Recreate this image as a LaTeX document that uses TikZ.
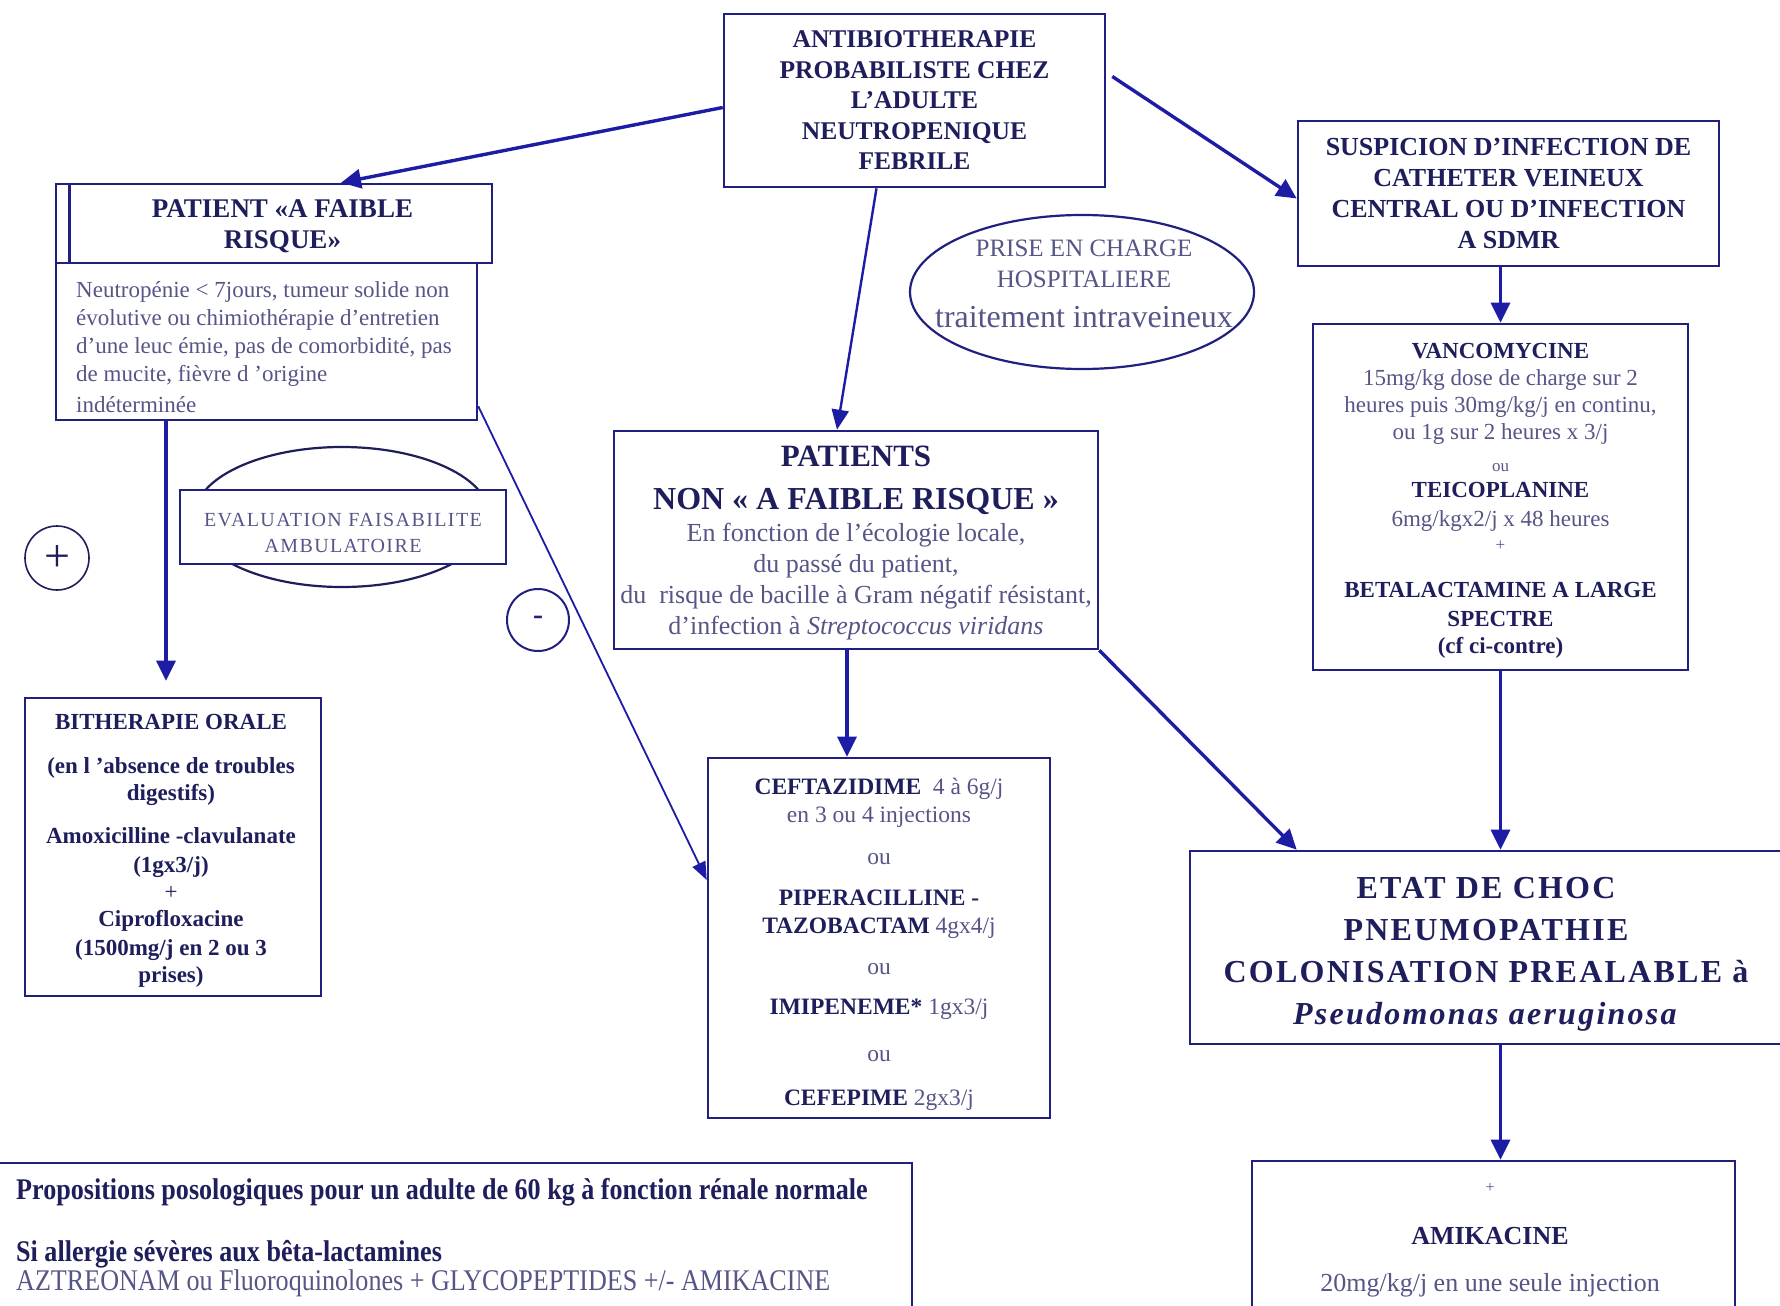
\documentclass[tikz,border=0pt]{standalone}
\usepackage{fontspec}
\setmainfont{Liberation Serif}
\newfontfamily\condfont[FakeStretch=0.87]{Liberation Serif}
\newfontfamily\wideserif[LetterSpace=7]{Liberation Serif}
\usetikzlibrary{arrows.meta,calc,shapes.geometric}
\definecolor{boxc}{RGB}{32,32,128}
\definecolor{arrc}{RGB}{28,28,165}
\definecolor{hdc}{RGB}{30,30,92}
\definecolor{bdc}{RGB}{85,85,135}
\newcommand{\fsz}[2]{\fontsize{#1}{#2}\selectfont}
\newcommand{\hdl}[1]{{\color{hdc}\bfseries #1}}
\begin{document}
\begin{tikzpicture}[x=1pt,y=-1pt,
  box/.style={draw=boxc, line width=2.6pt, fill=white, inner sep=0pt, align=center},
  arr/.style={draw=arrc, line width=3.4pt, -{Triangle[length=20pt,width=19pt]}},
  arrb/.style={draw=arrc, line width=2.4pt, -{Triangle[length=20pt,width=17pt]}},
  thinarr/.style={draw=arrc, line width=1.8pt, -{Triangle[length=18pt,width=14pt]}},
  txt/.style={inner sep=0pt, align=center}]
\useasboundingbox (0,0) rectangle (1780,1306);
\fill[white] (0,0) rectangle (1780,1306);

% top box
\node[box, minimum width=381, minimum height=173, text=hdc, font=\bfseries\fsz{25.5}{30.5}] (top) at (914.5,100.5)
  {ANTIBIOTHERAPIE\\PROBABILISTE CHEZ\\L’ADULTE\\NEUTROPENIQUE\\FEBRILE};

% low risk header + description
\node[box, minimum width=436, minimum height=79] (header) at (274,223.5) {};
\draw[draw=boxc, line width=2.6pt] ($(header.north west)+(15,0)$) -- ($(header.south west)+(15,0)$);
\node[txt, text=hdc, font=\bfseries\fsz{27}{31}] (headertxt) at (282.5,226) {PATIENT «A FAIBLE\\RISQUE»};
\node[box, minimum width=421, minimum height=157] (desc) at (266.5,341.5) {};
\node[txt, align=left, anchor=west, text=bdc, font=\fsz{23}{28}] (desctxt) at (76,347)
  {Neutropénie < 7jours, tumeur solide non\\évolutive ou chimiothérapie d’entretien\\d’une leuc émie, pas de comorbidité, pas\\de mucite, fièvre d ’origine\\[3pt]indéterminée};

% suspicion
\node[box, minimum width=421, minimum height=145, text=hdc, font=\bfseries\fsz{26}{31}] (susp) at (1508.5,193.5)
  {SUSPICION D’INFECTION DE\\CATHETER VEINEUX\\CENTRAL OU D’INFECTION\\A SDMR};

% hospital ellipse
\node[ellipse, draw=boxc, line width=2.2pt, minimum width=344, minimum height=154, inner sep=0pt] (prise) at (1082,292) {};
\node[txt, text=bdc, font=\fsz{25}{31}] (prisetxt) at (1084,284)
  {PRISE EN CHARGE\\HOSPITALIERE\\[9pt]{\fsz{32}{40}traitement intraveineux}};

% vancomycine
\node[box, minimum width=375, minimum height=346] (vanco) at (1500.5,497) {};
\node[txt, text=bdc, font=\fsz{23}{27}] (vancotxt) at ($(vanco.center)+(0,4)$)
  {\hdl{VANCOMYCINE}\\
   15mg/kg dose de charge sur 2\\
   heures puis 30mg/kg/j en continu,\\
   ou 1g sur 2 heures x 3/j\\[5pt]
   {\fsz{17}{20}ou}\\[-1pt]
   \hdl{TEICOPLANINE}\\[2pt]
   6mg/kgx2/j x 48 heures\\[-3pt]
   {\fsz{17}{20}+}\\[20pt]
   \hdl{BETALACTAMINE A LARGE}\\[2pt]
   \hdl{SPECTRE}\\
   \hdl{(cf ci-contre)}};

% patients non a faible risque
\node[box, minimum width=484, minimum height=218] (pat) at (856,540) {};
\node[txt, text=bdc, font=\fsz{26}{31}] (pattxt) at ($(pat.center)+(0,3)$)
  {\hdl{\fsz{31}{31}PATIENTS}\\[12pt]
   \hdl{\fsz{32}{31}NON « A FAIBLE RISQUE »}\\[1pt]
   En fonction de l’écologie locale,\\
   du passé du patient,\\
   du \ risque de bacille à Gram négatif résistant,\\
   d’infection à \textit{Streptococcus viridans}};

% evaluation
\node[ellipse, draw=hdc, line width=2.2pt, minimum width=296, minimum height=140, inner sep=0pt] (evalell) at (342,517) {};
\node[box, minimum width=326, minimum height=74] (eval) at (343,527) {};
\node[txt, text=bdc, font=\wideserif\fsz{20}{26}] (evaltxt) at ($(eval.center)+(0,6)$)
  {EVALUATION FAISABILITE\\AMBULATOIRE};

% plus / minus
\node[circle, draw=hdc, line width=1.6pt, minimum size=64, inner sep=0pt, text=hdc, font=\fsz{46}{46}] (plus) at (57,558) {+};
\node[circle, draw=boxc, line width=2pt, minimum size=62, inner sep=0pt, text=boxc, font=\bfseries\fsz{30}{30}] (minus) at (538,620) {\raisebox{-8pt}{-}};

% bitherapie
\node[box, minimum width=296, minimum height=298] (bith) at (173,847) {};
\node[txt, text=hdc, font=\bfseries\fsz{23}{27}] (bithtxt) at ($(bith.center)+(-2,4)$)
  {BITHERAPIE ORALE\\[17pt]
   (en l ’absence de troubles\\
   digestifs)\\[16pt]
   Amoxicilline -clavulanate\\[2pt]
   (1gx3/j)\\
   {\mdseries +}\\
   Ciprofloxacine\\[2pt]
   (1500mg/j en 2 ou 3\\
   prises)};

% ceftazidime
\node[box, minimum width=342, minimum height=360] (ceft) at (879,938) {};
\node[txt, text=bdc, font=\fsz{23.5}{28}] (cefttxt) at ($(ceft.center)+(0,6)$)
  {\hdl{CEFTAZIDIME}\ \ 4 à 6g/j\\
   en 3 ou 4 injections\\[14pt]
   ou\\[13pt]
   \hdl{PIPERACILLINE -}\\
   \hdl{TAZOBACTAM} 4gx4/j\\[13pt]
   ou\\[12pt]
   \hdl{IMIPENEME*} 1gx3/j\\[19pt]
   ou\\[16pt]
   \hdl{CEFEPIME} 2gx3/j};

% etat de choc
\node[box, minimum width=592, minimum height=193] (etat) at (1486,947.5) {};
\node[txt, text=hdc, font=\wideserif\bfseries\fsz{32}{42}] (etattxt) at ($(etat.center)+(0,7)$)
  {ETAT DE CHOC\\PNEUMOPATHIE\\COLONISATION PREALABLE à\\\textit{Pseudomonas aeruginosa}};

% amikacine
\node[box, minimum width=483, minimum height=170] (amik) at (1493.5,1246) {};
\node[txt, anchor=north, text=bdc, font=\fsz{26}{30}] (amiktxt) at (1490,1183)
  {{\fsz{16}{16}+}\\[22pt]\hdl{AMIKACINE}\\[17pt]20mg/kg/j en une seule injection};

% legend
\node[box, minimum width=917, minimum height=170] (legend) at (453.5,1248) {};
\node[txt, align=left, anchor=north west, text=hdc, font=\condfont\fsz{30}{29}] (legendtxt) at (16,1178)
  {\textbf{Propositions posologiques pour un adulte de 60 kg à fonction rénale normale}\\[33pt]
   \textbf{Si allergie sévères aux bêta-lactamines}\\
   {\color{bdc}AZTREONAM ou Fluoroquinolones + GLYCOPEPTIDES +/- AMIKACINE}};

% connectors
\draw[arr] ($(top.west)+(0,7)$) -- ($(header.north)+(67,0)$);
\draw[arrb] ($(top.south)+(-38,0)$) -- ($(pat.north)+(-19,0)$);
\draw[arr] ($(top.east)+(6,-24)$) -- ($(susp.west)+(0,5)$);
\draw[arr] (susp.south -| vanco.north) -- (vanco.north);
\draw[arr] ($(desc.south)+(-100.5,0)$) -- ($(bith.north)+(-7,-16)$);
\draw[thinarr] ($(desc.south east)+(0,-15)$) -- ($(ceft.west)+(0,-58)$);
\draw[arr] ($(pat.south)+(-9,0)$) -- ($(ceft.north)+(-32,0)$);
\draw[arr] (pat.south east) -- ($(etat.north west)+(108,0)$);
\draw[arr] (vanco.south) -- (vanco.south |- etat.north);
\draw[arr] (etat.south -| vanco.south) -- (amik.north -| vanco.south);
\end{tikzpicture}
\end{document}
